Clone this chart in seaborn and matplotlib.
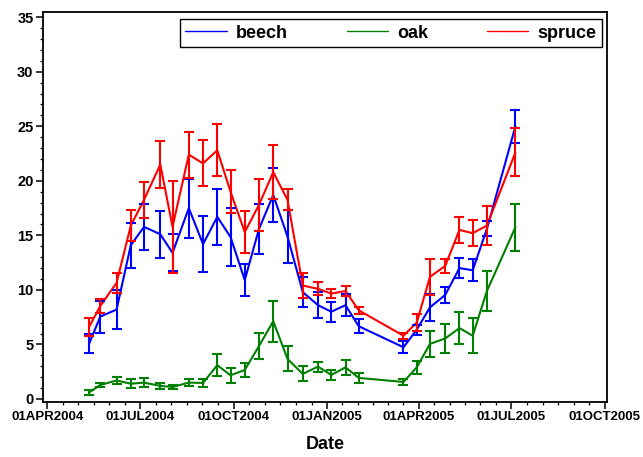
import numpy as np
import pandas as pd
import matplotlib
matplotlib.use("Agg")
import matplotlib.pyplot as plt
import matplotlib.dates as mdates
from matplotlib.ticker import FixedLocator, AutoMinorLocator, FuncFormatter
import seaborn as sns

dates = ["2004-05-12", "2004-05-23", "2004-06-08", "2004-06-22", "2004-07-05",
         "2004-07-21", "2004-08-02", "2004-08-18", "2004-09-01", "2004-09-15",
         "2004-09-28", "2004-10-12", "2004-10-26", "2004-11-09", "2004-11-23",
         "2004-12-08", "2004-12-23", "2005-01-05", "2005-01-19", "2005-02-01",
         "2005-03-17", "2005-03-30", "2005-04-12", "2005-04-27", "2005-05-11",
         "2005-05-24", "2005-06-07", "2005-07-05"]

beech = [5.06, 7.55, 8.2, 14.1, 15.78, 15.1, 13.4, 17.5, 14.2, 16.7,
         14.85, 10.9, 15.6, 18.7, 14.9, 9.8, 8.6, 8.0, 8.6, 6.67,
         4.74, 6.35, 8.4, 9.54, 12.0, 11.8, 15.6, 25.0]
beech_err = [0.87, 1.47, 1.8, 2.06, 2.1, 2.14, 1.7, 2.7, 2.6, 2.55,
             2.7, 1.5, 2.3, 2.5, 2.4, 1.4, 1.18, 0.92, 1.0, 0.64,
             0.54, 0.46, 1.22, 0.7, 0.92, 1.0, 0.7, 1.5]

oak = [0.6, 1.28, 1.7, 1.4, 1.5, 1.2, 1.1, 1.5, 1.47, 3.1,
       2.17, 2.66, 4.86, 7.13, 3.67, 2.3, 2.97, 2.2, 2.9, 1.93,
       1.56, 2.9, 5.05, 5.55, 6.5, 5.8, 9.9, 15.75]
oak_err = [0.2, 0.15, 0.3, 0.43, 0.4, 0.26, 0.15, 0.3, 0.34, 1.0,
           0.66, 0.67, 1.22, 1.87, 1.15, 0.69, 0.46, 0.46, 0.69, 0.43,
           0.25, 0.6, 1.2, 1.3, 1.44, 1.58, 1.79, 2.15]

spruce = [6.6, 8.53, 10.64, 15.9, 18.26, 21.5, 15.78, 22.4, 21.6, 22.8,
          19.0, 15.3, 17.8, 20.8, 18.26, 10.4, 10.1, 9.66, 9.9, 8.13,
          5.8, 7.0, 11.2, 12.2, 15.5, 15.2, 15.9, 22.6]
spruce_err = [0.81, 0.61, 0.95, 1.45, 1.67, 2.19, 4.25, 2.1, 2.1, 2.4,
              1.99, 1.9, 2.37, 2.5, 0.95, 1.15, 0.61, 0.41, 0.46, 0.34,
              0.28, 0.81, 1.64, 0.61, 1.18, 1.18, 1.8, 2.2]

species = ["beech", "oak", "spruce"]
colors = {"beech": "#0000ff", "oak": "#008000", "spruce": "#ff0000"}
major_ticks = ["2004-04-01", "2004-07-01", "2004-10-01", "2005-01-01",
               "2005-04-01", "2005-07-01", "2005-10-01"]

sns.set_style("ticks")
plt.rcParams["font.family"] = ["Liberation Sans", "DejaVu Sans"]
plt.rcParams["font.weight"] = "bold"
for key in ["text.color", "axes.labelcolor", "xtick.color", "ytick.color",
            "axes.edgecolor"]:
    plt.rcParams[key] = "black"

means = {"beech": beech, "oak": oak, "spruce": spruce}
errs = {"beech": beech_err, "oak": oak_err, "spruce": spruce_err}
rows = []
for sp in species:
    for d, m, e in zip(dates, means[sp], errs[sp]):
        rows.append({"Date": pd.Timestamp(d), "value": m, "err": e, "species": sp})
df = pd.DataFrame(rows)

fig = plt.figure(figsize=(6.43, 4.57), dpi=100)
ax = fig.add_axes([43.3 / 643, 1 - 401.7 / 457, (607 - 43.3) / 643, (401.7 - 12) / 457])

sns.lineplot(data=df, x="Date", y="value", hue="species", hue_order=species,
             palette=colors, errorbar=None, linewidth=1.5, ax=ax)
for sp in species:
    sub = df[df["species"] == sp]
    ax.errorbar(sub["Date"], sub["value"], yerr=sub["err"], fmt="none",
                ecolor=colors[sp], elinewidth=1.5, capsize=3.8, capthick=1.5)

ax.set_xlim(pd.Timestamp("2004-03-28"), pd.Timestamp("2005-10-03"))
ax.set_ylim(-0.25, 35.48)

maj = [mdates.date2num(pd.Timestamp(t)) for t in major_ticks]
ax.xaxis.set_major_locator(FixedLocator(maj))
minors = []
for a, b in zip(maj[:-1], maj[1:]):
    for k in range(1, 6):
        minors.append(a + (b - a) * k / 6)
ax.xaxis.set_minor_locator(FixedLocator(minors))
ax.xaxis.set_major_formatter(FuncFormatter(
    lambda x, pos: mdates.num2date(x).strftime("%d%b%Y").upper()))
ax.yaxis.set_major_locator(FixedLocator(np.arange(0, 36, 5)))
ax.yaxis.set_minor_locator(AutoMinorLocator(5))

for s in ax.spines.values():
    s.set_visible(True)
    s.set_linewidth(1.3)
    s.set_color("black")
ax.tick_params(axis="both", which="major", length=5, width=1.1, pad=2, colors="black")
ax.tick_params(axis="x", which="major", labelsize=9.5)
ax.tick_params(axis="y", which="major", labelsize=10.5)
ax.tick_params(axis="both", which="minor", length=2.5, width=0.9, colors="black")
for lab in ax.get_xticklabels() + ax.get_yticklabels():
    lab.set_fontweight("bold")

ax.set_xlabel("Date", fontsize=13, fontweight="bold", labelpad=9, color="black")
ax.set_ylabel("")

handles, labels = ax.get_legend_handles_labels()
leg = ax.legend(handles[:3], labels[:3], ncol=3, loc="lower left",
                bbox_to_anchor=(0.2425, 0.910, 0.7485, 0.082), mode="expand",
                borderaxespad=0, frameon=True, fancybox=False, framealpha=1,
                edgecolor="black", fontsize=13, handlelength=2.3,
                handletextpad=0.5, borderpad=0.3)
leg.get_frame().set_linewidth(1.0)
for l in leg.get_lines():
    l.set_linewidth(1.0)
for t in leg.get_texts():
    t.set_fontweight("bold")
    t.set_color("black")

fig.savefig("out.png", dpi=100)
